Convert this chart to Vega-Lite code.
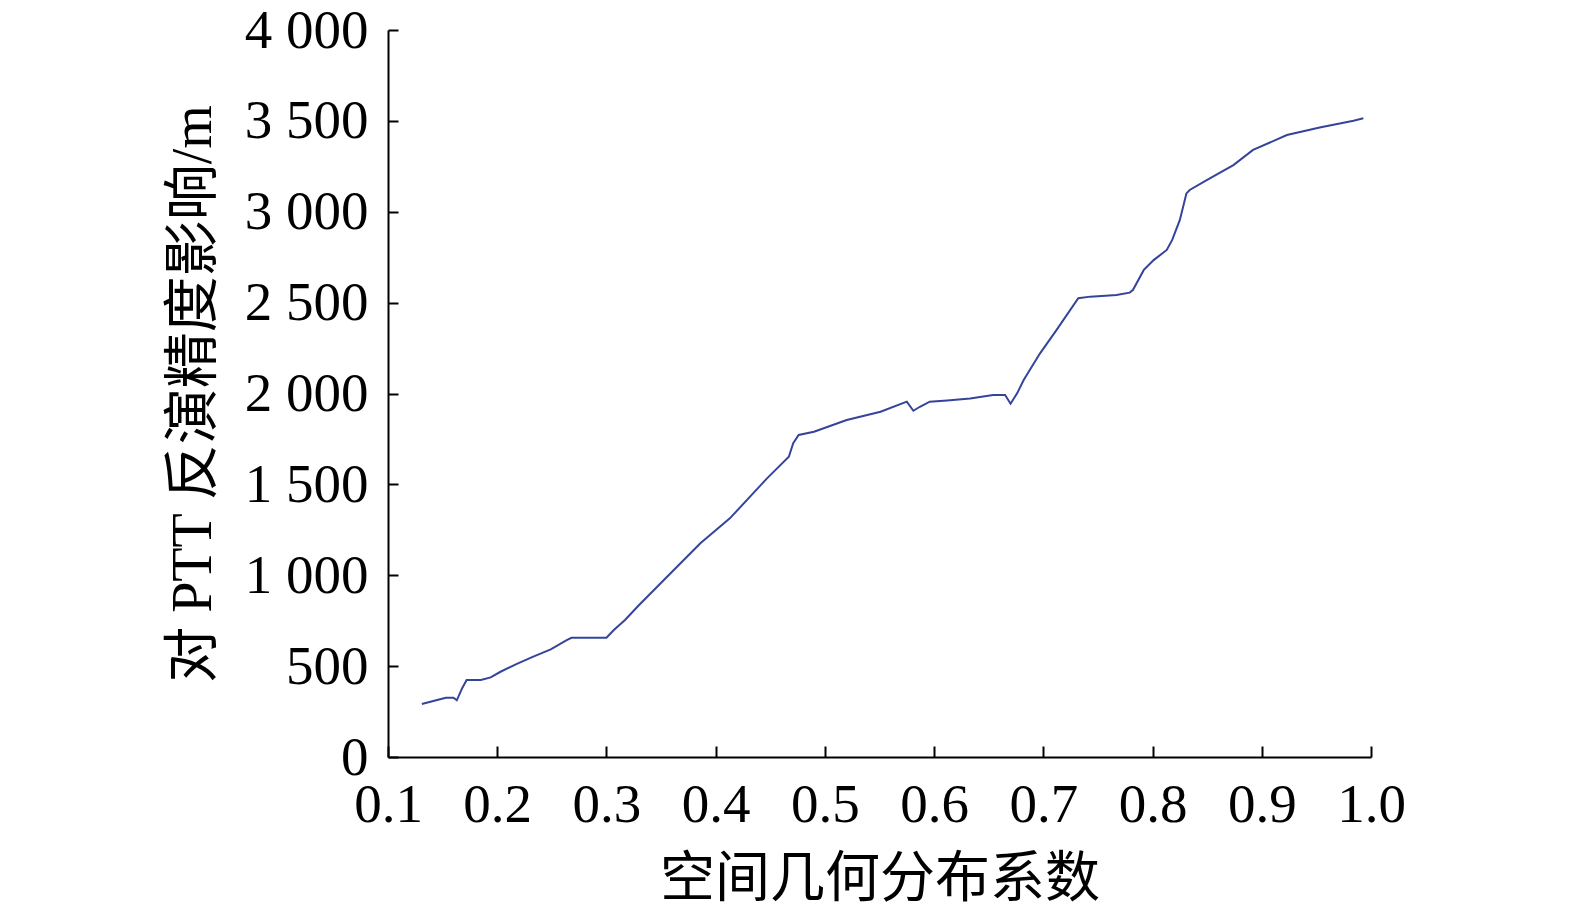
{
  "$schema": "https://vega.github.io/schema/vega-lite/v6.json",
  "autosize": "none",
  "width": 983,
  "height": 727,
  "padding": {"left": 388, "top": 30, "right": 204, "bottom": 157},
  "background": "white",
  "config": {"view": {"stroke": null}},
  "data": {"values": [
    {"k": 0.131, "v": 292}, {"k": 0.145, "v": 314}, {"k": 0.153, "v": 326}, {"k": 0.160, "v": 326},
    {"k": 0.163, "v": 312}, {"k": 0.168, "v": 380}, {"k": 0.172, "v": 424}, {"k": 0.185, "v": 424},
    {"k": 0.194, "v": 438}, {"k": 0.203, "v": 469}, {"k": 0.218, "v": 512}, {"k": 0.233, "v": 552},
    {"k": 0.249, "v": 592}, {"k": 0.264, "v": 644}, {"k": 0.268, "v": 656}, {"k": 0.300, "v": 656},
    {"k": 0.307, "v": 700}, {"k": 0.317, "v": 754}, {"k": 0.329, "v": 831}, {"k": 0.351, "v": 964},
    {"k": 0.386, "v": 1176}, {"k": 0.413, "v": 1313}, {"k": 0.447, "v": 1533}, {"k": 0.467, "v": 1652},
    {"k": 0.471, "v": 1726}, {"k": 0.476, "v": 1772}, {"k": 0.490, "v": 1790}, {"k": 0.520, "v": 1854},
    {"k": 0.551, "v": 1900}, {"k": 0.575, "v": 1955}, {"k": 0.581, "v": 1905}, {"k": 0.587, "v": 1927},
    {"k": 0.596, "v": 1955}, {"k": 0.612, "v": 1962}, {"k": 0.633, "v": 1973}, {"k": 0.654, "v": 1992},
    {"k": 0.665, "v": 1992}, {"k": 0.670, "v": 1944}, {"k": 0.676, "v": 2001}, {"k": 0.682, "v": 2074},
    {"k": 0.697, "v": 2221}, {"k": 0.712, "v": 2349}, {"k": 0.732, "v": 2524}, {"k": 0.743, "v": 2533},
    {"k": 0.767, "v": 2542}, {"k": 0.779, "v": 2555}, {"k": 0.782, "v": 2569}, {"k": 0.792, "v": 2680},
    {"k": 0.801, "v": 2734}, {"k": 0.813, "v": 2790}, {"k": 0.818, "v": 2845}, {"k": 0.825, "v": 2955},
    {"k": 0.831, "v": 3101}, {"k": 0.834, "v": 3120}, {"k": 0.850, "v": 3175}, {"k": 0.874, "v": 3257},
    {"k": 0.892, "v": 3340}, {"k": 0.923, "v": 3422}, {"k": 0.953, "v": 3464}, {"k": 0.984, "v": 3501},
    {"k": 0.993, "v": 3514}
  ]},
  "mark": {"type": "line", "color": "#34449a", "strokeWidth": 2, "interpolate": "linear"},
  "encoding": {
    "x": {
      "field": "k", "type": "quantitative",
      "scale": {"domain": [0.1, 1.0], "nice": false, "zero": false},
      "axis": {
        "title": "空间几何分布系数",
        "values": [0.1, 0.2, 0.3, 0.4, 0.5, 0.6, 0.7, 0.8, 0.9, 1.0],
        "format": ".1f",
        "grid": false,
        "domainColor": "black", "domainWidth": 2,
        "tickColor": "black", "tickWidth": 2, "tickSize": -11,
        "labelFont": "Liberation Serif", "labelFontSize": 55, "labelColor": "black",
        "labelPadding": 32, "labelFlush": false, "labelOverlap": false,
        "titleFont": "Noto Sans CJK SC", "titleFontSize": 55, "titleFontWeight": "normal",
        "titleColor": "black", "titlePadding": 20
      }
    },
    "y": {
      "field": "v", "type": "quantitative",
      "scale": {"domain": [0, 4000], "nice": false},
      "axis": {
        "title": "对 PTT 反演精度影响/m",
        "values": [0, 500, 1000, 1500, 2000, 2500, 3000, 3500, 4000],
        "labelExpr": "replace(format(datum.value, ','), ',', ' ')",
        "grid": false,
        "domainColor": "black", "domainWidth": 2,
        "tickColor": "black", "tickWidth": 2, "tickSize": -10,
        "labelFont": "Liberation Serif", "labelFontSize": 55, "labelColor": "black",
        "labelPadding": 30, "labelFlush": false, "labelOverlap": false,
        "titleFont": "'Liberation Serif', 'Noto Sans CJK SC'", "titleFontSize": 56, "titleFontWeight": "normal",
        "titleColor": "black", "titlePadding": 22
      }
    }
  }
}
